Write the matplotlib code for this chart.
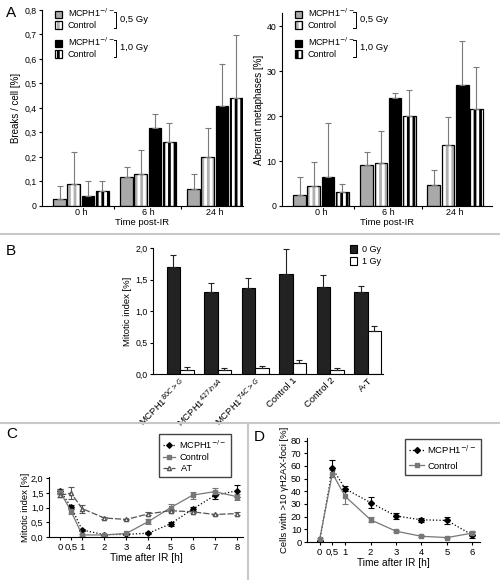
import matplotlib
matplotlib.use('Agg')
import matplotlib.pyplot as plt
import numpy as np
from matplotlib.patches import Patch
from matplotlib.lines import Line2D

plt.rcParams['font.family'] = ['Liberation Sans', 'DejaVu Sans']
plt.rcParams['font.size'] = 6
plt.rcParams['hatch.linewidth'] = 2.0
plt.rcParams['axes.linewidth'] = 0.8
plt.rcParams['xtick.major.width'] = 0.8
plt.rcParams['ytick.major.width'] = 0.8
plt.rcParams['xtick.major.size'] = 2.5
plt.rcParams['ytick.major.size'] = 2.5

# ---- panel A data ----
times_a = ['0 h', '6 h', '24 h']
breaks_mcph1_05 = [0.03, 0.12, 0.07]
breaks_mcph1_05_err = [0.05, 0.04, 0.06]
breaks_ctrl_05 = [0.09, 0.13, 0.20]
breaks_ctrl_05_err = [0.13, 0.10, 0.12]
breaks_mcph1_10 = [0.04, 0.32, 0.41]
breaks_mcph1_10_err = [0.06, 0.055, 0.17]
breaks_ctrl_10 = [0.06, 0.26, 0.44]
breaks_ctrl_10_err = [0.04, 0.08, 0.26]

aber_mcph1_05 = [2.5, 9.2, 4.7]
aber_mcph1_05_err = [3.9, 2.8, 3.3]
aber_ctrl_05 = [4.5, 9.5, 13.5]
aber_ctrl_05_err = [5.3, 7.2, 6.4]
aber_mcph1_10 = [6.5, 24.0, 27.0]
aber_mcph1_10_err = [12.1, 1.1, 9.8]
aber_ctrl_10 = [3.2, 20.0, 21.5]
aber_ctrl_10_err = [1.6, 5.8, 9.5]

# ---- panel B data ----
lines_b = [r'MCPH1$^{80C>G}$', r'MCPH1$^{427insA}$', r'MCPH1$^{74C>G}$',
           'Control 1', 'Control 2', 'A-T']
mi_0gy = [1.70, 1.30, 1.37, 1.59, 1.38, 1.30]
mi_0gy_err = [0.19, 0.14, 0.15, 0.40, 0.19, 0.09]
mi_1gy = [0.06, 0.07, 0.09, 0.17, 0.06, 0.68]
mi_1gy_err = [0.05, 0.02, 0.03, 0.05, 0.03, 0.08]

# ---- panel C data ----
time_c = [0, 0.5, 1, 2, 3, 4, 5, 6, 7, 8]
mi_mcph1 = [1.58, 1.03, 0.24, 0.08, 0.09, 0.13, 0.45, 0.95, 1.42, 1.58]
mi_mcph1_err = [0.06, 0.07, 0.04, 0.02, 0.02, 0.03, 0.06, 0.06, 0.12, 0.20]
mi_ctrl = [1.55, 0.88, 0.07, 0.07, 0.12, 0.53, 1.00, 1.43, 1.55, 1.38]
mi_ctrl_err = [0.08, 0.10, 0.02, 0.02, 0.03, 0.08, 0.12, 0.12, 0.12, 0.10]
mi_at = [1.42, 1.50, 0.97, 0.65, 0.60, 0.79, 0.90, 0.86, 0.77, 0.80]
mi_at_err = [0.06, 0.20, 0.14, 0.03, 0.03, 0.05, 0.05, 0.03, 0.03, 0.05]

# ---- panel D data ----
time_d = [0, 0.5, 1, 2, 3, 4, 5, 6]
foci_mcph1 = [1.0, 58.0, 42.0, 31.0, 20.5, 17.5, 17.0, 5.5]
foci_mcph1_err = [0.8, 7.0, 2.0, 4.5, 2.0, 1.5, 3.0, 2.5]
foci_ctrl = [2.5, 54.0, 36.0, 17.5, 8.5, 4.5, 3.5, 7.0]
foci_ctrl_err = [1.0, 3.0, 6.0, 2.0, 1.0, 0.7, 0.5, 2.0]

fig = plt.figure(figsize=(5, 5.8), dpi=100)
H = 580.0
W = 500.0


def rect(x0, x1, ytop, ybot):
    return [x0 / W, 1 - ybot / H, (x1 - x0) / W, (ybot - ytop) / H]


def clean(ax):
    ax.spines['top'].set_visible(False)
    ax.spines['right'].set_visible(False)
    ax.tick_params(direction='out', pad=1.5)


styles_a = [('solid', '#a9a9a9'), ('stripe', '#b0b0b0'),
            ('solid', 'black'), ('stripe', 'black')]


def striped_bar(ax, x, h, w, col):
    ax.bar(x, h, w, color='white', edgecolor=col, hatch='|||', linewidth=0)
    ax.bar(x, h, w, fill=False, edgecolor='black', linewidth=0.9)


def panel_a(ax, box, series, errs, ylim, yticks, yticklabels, ylabel):
    x0, x1, ytop, ybot = box
    fy = lambda py: (ybot - py) / (ybot - ytop)
    fx = lambda px: (px - x0) / (x1 - x0)
    x = np.arange(3)
    pitch = 0.212
    w = 0.19
    for i, (vals, err, st) in enumerate(zip(series, errs, styles_a)):
        xi = x + (i - 1.5) * pitch
        if st[0] == 'solid':
            ax.bar(xi, vals, w, color=st[1], edgecolor='black', linewidth=0.9)
        else:
            striped_bar(ax, xi, vals, w, st[1])
        ax.errorbar(xi, vals, yerr=[np.zeros(3), err], fmt='none',
                    ecolor='#7a7a7a', elinewidth=0.8, capsize=2, capthick=0.8)
    ax.set_ylim(*ylim)
    ax.set_yticks(yticks)
    ax.set_yticklabels(yticklabels, fontsize=6.3)
    ax.set_xticks(x)
    ax.set_xticklabels(times_a, fontsize=6.5)
    ax.tick_params(axis='x', length=0, pad=4)
    ax.set_xticks([0.5, 1.5], minor=True)
    ax.tick_params(axis='x', which='minor', length=2.5, width=0.8)
    ax.set_xlabel('Time post-IR', fontsize=6.8, labelpad=1)
    ax.set_ylabel(ylabel, fontsize=7, labelpad=2)
    clean(ax)
    # legend in two pairs with brackets
    mc = r'MCPH1$^{-/-}$'
    outline = Patch(fill=False, edgecolor='black', linewidth=0.9)
    h1 = [Patch(facecolor='#a9a9a9', edgecolor='black', linewidth=0.9),
          (Patch(facecolor='white', edgecolor='#b0b0b0', hatch='|||', linewidth=0), outline)]
    h2 = [Patch(facecolor='black', edgecolor='black', linewidth=0.9),
          (Patch(facecolor='white', edgecolor='black', hatch='|||', linewidth=0), outline)]
    kw = dict(loc='upper left', frameon=False, fontsize=6.5, handlelength=0.8,
              handleheight=0.9, handletextpad=0.6, labelspacing=0.2,
              borderaxespad=0, borderpad=0)
    lg1 = ax.legend(h1, [mc, 'Control'], bbox_to_anchor=(fx(x0 + 13), fy(7)), **kw)
    ax.add_artist(lg1)
    ax.legend(h2, [mc, 'Control'], bbox_to_anchor=(fx(x0 + 13), fy(36)), **kw)
    bx = fx(x0 + 74)
    for yt, yb, lab in [(12, 28, '0,5 Gy'), (40, 57, '1,0 Gy')]:
        ax.plot([bx - 0.012, bx, bx, bx - 0.012], [fy(yt), fy(yt), fy(yb), fy(yb)],
                transform=ax.transAxes, color='black', lw=0.7, clip_on=False)
        ax.text(bx + 0.02, fy((yt + yb) / 2 - 1), lab, transform=ax.transAxes,
                fontsize=6.8, va='center')


boxA1 = (42, 243, 10, 206)
axA1 = fig.add_axes(rect(*boxA1))
panel_a(axA1, boxA1, [breaks_mcph1_05, breaks_ctrl_05, breaks_mcph1_10, breaks_ctrl_10],
        [breaks_mcph1_05_err, breaks_ctrl_05_err, breaks_mcph1_10_err, breaks_ctrl_10_err],
        (0, 0.8), np.arange(0, 0.81, 0.1),
        ['0', '0,1', '0,2', '0,3', '0,4', '0,5', '0,6', '0,7', '0,8'],
        'Breaks / cell [%]')
axA1.set_xlim(-0.58, 2.42)

boxA2 = (282, 492, 13, 206)
axA2 = fig.add_axes(rect(*boxA2))
panel_a(axA2, boxA2, [aber_mcph1_05, aber_ctrl_05, aber_mcph1_10, aber_ctrl_10],
        [aber_mcph1_05_err, aber_ctrl_05_err, aber_mcph1_10_err, aber_ctrl_10_err],
        (0, 43), [0, 10, 20, 30, 40], ['0', '10', '20', '30', '40'],
        'Aberrant metaphases [%]')
axA2.set_xlim(-0.58, 2.55)

# ---- panel B ----
axB = fig.add_axes(rect(153, 383, 248, 374))
xb = np.arange(len(lines_b))
wb = 0.36
axB.bar(xb - wb / 2, mi_0gy, wb, color='#222222', edgecolor='black', linewidth=0.8,
        label='0 Gy')
axB.bar(xb + wb / 2, mi_1gy, wb, color='white', edgecolor='black', linewidth=0.8,
        label='1 Gy')
axB.errorbar(xb - wb / 2, mi_0gy, yerr=[np.zeros(6), mi_0gy_err], fmt='none',
             ecolor='#222222', elinewidth=0.8, capsize=2, capthick=0.8)
axB.errorbar(xb + wb / 2, mi_1gy, yerr=[np.zeros(6), mi_1gy_err], fmt='none',
             ecolor='#222222', elinewidth=0.8, capsize=2, capthick=0.8)
axB.set_xlim(-0.72, 5.41)
axB.set_ylim(0, 2.0)
axB.set_yticks([0, 0.5, 1.0, 1.5, 2.0])
axB.set_yticklabels(['0,0', '0,5', '1,0', '1,5', '2,0'], fontsize=6.3)
axB.set_xticks(xb)
axB.set_xticklabels(lines_b, rotation=45, ha='right', va='top',
                    rotation_mode='anchor', fontsize=6.8)
axB.tick_params(axis='x', length=0, pad=7)
axB.set_ylabel('Mitotic index [%]', fontsize=6.8, labelpad=2)
clean(axB)
axB.legend(loc='upper left', bbox_to_anchor=(0.84, 1.05), frameon=False, fontsize=6.5,
           handlelength=0.8, handleheight=0.9, handletextpad=0.6, labelspacing=0.3,
           borderaxespad=0)

# ---- panel C ----
axC = fig.add_axes(rect(49, 243, 477, 537))
ebkw = dict(capsize=2, elinewidth=0.8, capthick=0.8, lw=0.9)
axC.errorbar(time_c, mi_mcph1, yerr=mi_mcph1_err, color='black', ls=':',
             marker='D', ms=2.8, **ebkw)
axC.errorbar(time_c, mi_ctrl, yerr=mi_ctrl_err, color='#777777', ls='-',
             marker='s', ms=2.2, **ebkw)
axC.errorbar(time_c, mi_at, yerr=mi_at_err, color='#555555', ls=(0, (5, 1.5)),
             marker='^', ms=3, mfc='white', mec='#555555', **ebkw)
axC.set_xlim(-0.5, 8.28)
axC.set_ylim(0, 2.05)
axC.set_yticks([0, 0.5, 1.0, 1.5, 2.0])
axC.set_yticklabels(['0,0', '0,5', '1,0', '1,5', '2,0'], fontsize=6.5)
axC.set_xticks(time_c)
axC.set_xticklabels(['0', '0,5', '1', '2', '3', '4', '5', '6', '7', '8'], fontsize=6.8)
axC.set_xlabel('Time after IR [h]', fontsize=7.3, labelpad=1)
axC.set_ylabel('Mitotic index [%]', fontsize=6.8, labelpad=1)
clean(axC)
hC = [Line2D([], [], color='black', ls=':', lw=0.9, marker='D', ms=2.8),
      Line2D([], [], color='#777777', ls='-', lw=0.9, marker='s', ms=2.2),
      Line2D([], [], color='#555555', ls=(0, (5, 1.5)), lw=0.9, marker='^', ms=3,
             mfc='white', mec='#555555')]
axC.legend(hC, [r'MCPH1$^{-/-}$', 'Control', ' AT'], loc='upper right',
           bbox_to_anchor=(231 / W, 1 - 434 / H),
           bbox_transform=fig.transFigure, fontsize=6.6, fancybox=False,
           edgecolor='#444444', framealpha=1, handlelength=1.3, labelspacing=0.25,
           borderpad=0.45, handletextpad=0.45, borderaxespad=0)

# ---- panel D ----
axD = fig.add_axes(rect(307, 480, 438, 542))
axD.errorbar(time_d, foci_mcph1, yerr=foci_mcph1_err, color='black', ls=':',
             marker='D', ms=3, **ebkw)
axD.errorbar(time_d, foci_ctrl, yerr=foci_ctrl_err, color='#777777', ls='-',
             marker='s', ms=2.5, **ebkw)
axD.set_xlim(-0.5, 6.3)
axD.set_ylim(0, 82)
axD.set_yticks(np.arange(0, 81, 10))
axD.tick_params(axis='y', labelsize=6.8)
axD.set_xticks(time_d)
axD.set_xticklabels(['0', '0,5', '1', '2', '3', '4', '5', '6'], fontsize=6.8)
axD.set_xlabel('Time after IR [h]', fontsize=7.3, labelpad=1)
axD.set_ylabel('Cells with >10 γH2AX-foci [%]', fontsize=6.8, labelpad=1)
clean(axD)
hD = [Line2D([], [], color='black', ls=':', lw=0.9, marker='D', ms=3),
      Line2D([], [], color='#777777', ls='-', lw=0.9, marker='s', ms=2.5)]
axD.legend(hD, [r'MCPH1$^{-/-}$', 'Control'], loc='upper right',
           bbox_to_anchor=(481 / W, 1 - 439 / H),
           bbox_transform=fig.transFigure, fontsize=6.8, fancybox=False,
           edgecolor='#444444', framealpha=1, handlelength=1.5, labelspacing=0.6,
           borderpad=0.45, handletextpad=0.4, borderaxespad=0)

# separators and panel letters
sep = '#c8c8c8'
fig.add_artist(Line2D([0, 1], [1 - 234 / H] * 2, transform=fig.transFigure, color=sep, lw=1.5))
fig.add_artist(Line2D([0, 1], [1 - 423 / H] * 2, transform=fig.transFigure, color=sep, lw=1.5))
fig.add_artist(Line2D([248 / W] * 2, [0, 1 - 423 / H], transform=fig.transFigure, color=sep, lw=1.5))
for lx, ly, t in [(6, 13, 'A'), (6, 251, 'B'), (6, 434, 'C'), (254, 437, 'D')]:
    fig.text(lx / W, 1 - ly / H, t, fontsize=11, va='center', ha='left')

plt.savefig('out.png', dpi=100)
